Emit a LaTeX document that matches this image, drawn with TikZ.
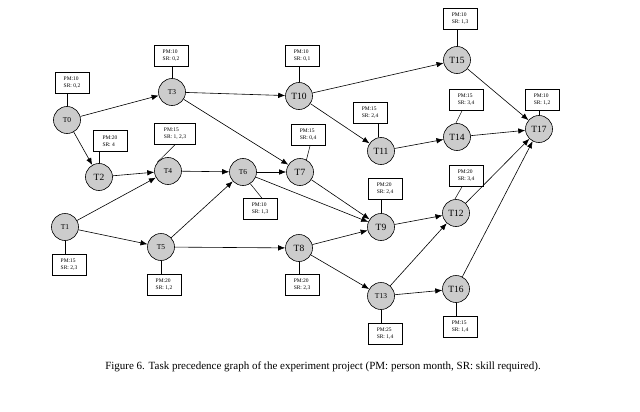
\documentclass[tikz,border=0pt]{standalone}
\usepackage{fontspec}
\setmainfont{Liberation Serif}
\usetikzlibrary{arrows.meta}
\begin{document}
\begin{tikzpicture}[x=1pt,y=-1pt,
  task/.style={circle,draw,line width=0.6pt,fill=black!20,minimum size=27pt,inner sep=0pt,font=\fontsize{9.5}{10}\selectfont},
  smalltask/.style={task,font=\fontsize{7.5}{8}\selectfont},
  info/.style={draw,line width=0.6pt,fill=white,minimum width=34pt,minimum height=21pt,inner sep=1pt,align=left,font=\fontsize{5.5}{7}\selectfont},
  link/.style={line width=0.5pt},
  arr/.style={line width=0.6pt,-{Latex[length=7pt,width=5.5pt]}}]
\useasboundingbox (0,0) rectangle (640,412);
% tasks
\node[smalltask] (T0) at (67,120) {T0};
\node[smalltask] (T3) at (172,92) {T3};
\node[task] (T10) at (299,96) {T10};
\node[task] (T15) at (457,60) {T15};
\node[task] (T17) at (539,129) {T17};
\node[task] (T14) at (457,137) {T14};
\node[task] (T11) at (381,151) {T11};
\node[task] (T7) at (300,172) {T7};
\node[smalltask] (T6) at (243,172) {T6};
\node[smalltask] (T4) at (168,171) {T4};
\node[task] (T2) at (99,177) {T2};
\node[smalltask] (T1) at (65,227) {T1};
\node[smalltask] (T5) at (161,247) {T5};
\node[task] (T8) at (299,248) {T8};
\node[task] (T9) at (381,227) {T9};
\node[task] (T12) at (456,213) {T12};
\node[smalltask] (T13) at (381,296) {T13};
\node[task] (T16) at (456,289) {T16};
% info boxes
\node[info] (b0) at (72,83) {PM:10\\SR: 0,2};
\node[info] (b3) at (171,56) {PM:10\\SR: 0,2};
\node[info] (b10) at (302,56) {PM:10\\SR: 0,1};
\node[info] (b15) at (460,19) {PM:10\\SR: 1,3};
\node[info] (b17) at (542,100) {PM:10\\SR: 1,2};
\node[info] (b14) at (466,100) {PM:15\\SR: 3,4};
\node[info] (b11) at (370,113) {PM:15\\SR: 2,4};
\node[info] (b7) at (308,135) {PM:15\\SR: 0,4};
\node[info] (b2) at (110,141) {PM:20\\SR: 4};
\node[info,minimum width=41pt] (b4) at (175,134) {PM:15\\SR: 1, 2,3};
\node[info] (b6) at (260,209) {PM:10\\SR: 1,3};
\node[info] (b1) at (69,265) {PM:15\\SR: 2,3};
\node[info] (b5) at (164,285) {PM:20\\SR: 1,2};
\node[info] (b8) at (302,285) {PM:20\\SR: 2,3};
\node[info] (b9) at (385,189) {PM:20\\SR: 2,4};
\node[info] (b12) at (466,176) {PM:20\\SR: 3,4};
\node[info] (b13) at (385,334) {PM:25\\SR: 1,4};
\node[info] (b16) at (460,327) {PM:15\\SR: 1,4};
% box links
\draw[link] (T0.north) -- (T0.north |- b0.south);
\draw[link] (T3.north) -- (T3.north |- b3.south);
\draw[link] (T10.north) -- (T10.north |- b10.south);
\draw[link] (T15.north) -- (T15.north |- b15.south);
\draw[link] (T17.north) -- (T17.north |- b17.south);
\draw[link] (T11.100) -- (T11.100 |- b11.south);
\draw[link] (T2.north) -- (T2.north |- b2.south);
\draw[link] (T9.north) -- (T9.north |- b9.south);
\draw[link] (T1.south) -- (T1.south |- b1.north);
\draw[link] (T5.south) -- (T5.south |- b5.north);
\draw[link] (T8.south) -- (T8.south |- b8.north);
\draw[link] (T13.south) -- (T13.south |- b13.north);
\draw[link] (T16.south) -- (T16.south |- b16.north);
\draw[link] ([xshift=-4pt]b14.south) -- (T14.95);
\draw[link] ([xshift=-4pt]b12.south) -- (T12.95);
\draw[link] ([xshift=2pt]b7.south) -- (T7.62);
\draw[link] (b4.south) -- (T4.140);
\draw[link] ([xshift=2pt]b6.north) -- (T6.-58);
% precedence edges
\draw[arr] (T0) -- (T3);
\draw[arr] (T0) -- (T2);
\draw[arr] (T3) -- (T10);
\draw[arr] (T3) -- (T7);
\draw[arr] (T10) -- (T15);
\draw[arr] (T10) -- (T11);
\draw[arr] (T15) -- (T17);
\draw[arr] (T14) -- (T17);
\draw[arr] (T11) -- (T14);
\draw[arr] (T2) -- (T4);
\draw[arr] (T1) -- (T4);
\draw[arr] (T1) -- (T5);
\draw[arr] (T4) -- (T6);
\draw[arr] (T5) -- (T6);
\draw[arr] (T5) -- (T8);
\draw[arr] (T6) -- (T7);
\draw[arr] (T6) -- (T9);
\draw[arr] (T7) -- (T9);
\draw[arr] (T8) -- (T9);
\draw[arr] (T8) -- (T13);
\draw[arr] (T9) -- (T12);
\draw[arr] (T13) -- (T12);
\draw[arr] (T13) -- (T16);
\draw[arr] (T12) -- (T17);
\draw[arr] (T16) -- (T17);
% caption
\node[font=\fontsize{11}{13}\selectfont] (cap) at (323,367) {Figure 6. Task precedence graph of the experiment project (PM: person month, SR: skill required).};
\end{tikzpicture}
\end{document}
